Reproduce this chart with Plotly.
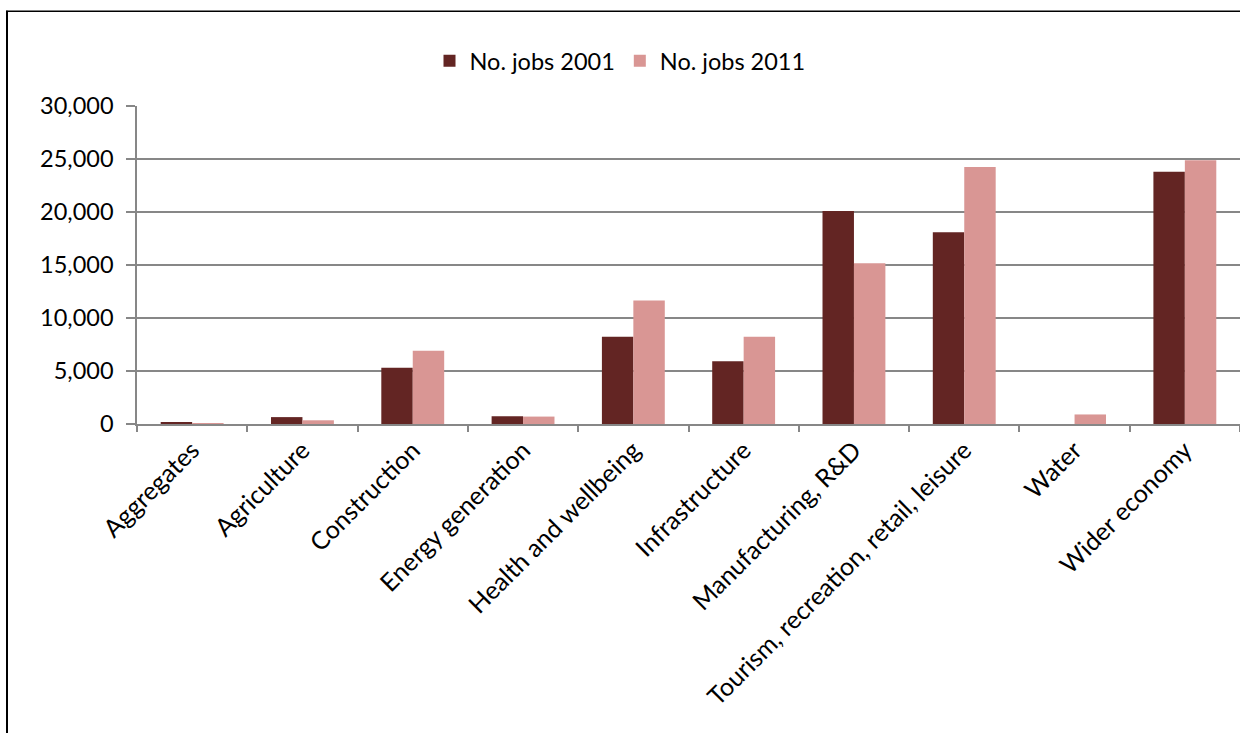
import plotly.graph_objects as go

categories = [
    "Aggregates", "Agriculture", "Construction", "Energy generation",
    "Health and wellbeing", "Infrastructure", "Manufacturing, R&D",
    "Tourism, recreation, retail, leisure", "Water", "Wider economy",
]
jobs_2001 = [100, 650, 5300, 730, 8220, 5930, 20090, 18080, 0, 23800]
jobs_2011 = [50, 350, 6900, 700, 11650, 8220, 15160, 24250, 900, 24880]
y_ticks = [0, 5000, 10000, 15000, 20000, 25000, 30000]
y_tick_labels = ["0", "5,000", "10,000", "15,000", "20,000", "25,000", "30,000"]

FONT = "Lato, Calibri, Carlito, sans-serif"
FS = 23.5
FS_X = 25
GRID = "#878787"

W, H = 1240, 733
ML, MT, MB, MR = 137, 105.5, 309, 0
plot_w = W - ML - MR
plot_h = H - MT - MB

def px_to_paper_x(px):
    return (px - ML) / plot_w

def px_to_paper_y(py):
    return (H - MB - py) / plot_h

fig = go.Figure()
fig.add_trace(go.Bar(name="No. jobs 2001", x=categories, y=jobs_2001,
                     marker=dict(color="#632523", line=dict(width=0))))
fig.add_trace(go.Bar(name="No. jobs 2011", x=categories, y=jobs_2011,
                     marker=dict(color="#D99694", line=dict(width=0))))

# outer frame (left and top edges)
fig.add_shape(type="line", xref="paper", yref="paper",
              x0=px_to_paper_x(7), x1=px_to_paper_x(7),
              y0=px_to_paper_y(10), y1=px_to_paper_y(740),
              line=dict(color="black", width=2))
fig.add_shape(type="line", xref="paper", yref="paper",
              x0=px_to_paper_x(6), x1=px_to_paper_x(1260),
              y0=px_to_paper_y(10.5), y1=px_to_paper_y(10.5),
              line=dict(color="black", width=1.5))

fig.update_layout(
    width=W, height=H,
    margin=dict(l=ML, r=MR, t=MT, b=MB, pad=0),
    paper_bgcolor="white", plot_bgcolor="white",
    font=dict(family=FONT, size=FS, color="black"),
    barmode="group", bargap=0.43, bargroupgap=0,
    showlegend=True,
    legend=dict(orientation="h", xref="container", yref="container",
                x=0.5, xanchor="center", y=1 - 61 / H, yanchor="middle",
                font=dict(family=FONT, size=FS), itemsizing="constant",
                traceorder="normal", itemwidth=30, bgcolor="rgba(0,0,0,0)"),
    xaxis=dict(
        type="category", range=[-0.5, 9.5], tickangle=-45,
        tickson="boundaries", ticks="outside", ticklen=6, tickcolor=GRID,
        tickwidth=1.5, showline=True, linecolor=GRID, linewidth=1.5,
        showgrid=False, tickfont=dict(family=FONT, size=FS_X),
    ),
    yaxis=dict(
        range=[0, 30000], tickvals=y_ticks, ticktext=y_tick_labels,
        ticks="outside", ticklen=9, tickcolor=GRID, tickwidth=1.5,
        showline=True, linecolor=GRID, linewidth=1.5,
        showgrid=True, gridcolor=GRID, gridwidth=1.5, zeroline=False,
        tickfont=dict(family=FONT, size=FS), ticklabelstandoff=8,
    ),
)

fig.write_html("out.html")
